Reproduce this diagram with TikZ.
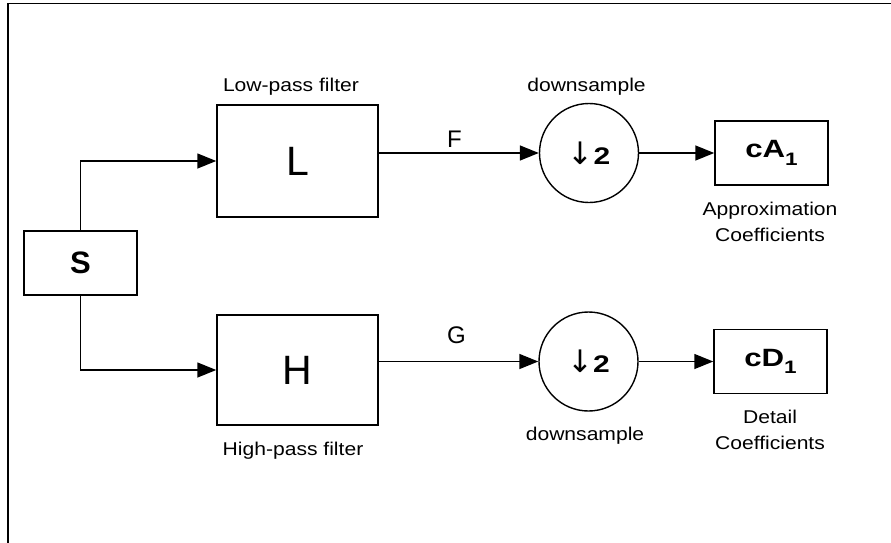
\documentclass[tikz,border=0pt]{standalone}
\usepackage{fontspec}
\setmainfont{Liberation Sans}
\newfontfamily\labfont[FakeStretch=1.14]{Liberation Sans}
\newfontfamily\widefont[FakeStretch=1.25]{Liberation Sans}
\newfontfamily\arrfont{DejaVu Sans}
\usetikzlibrary{arrows.meta}

\begin{document}
\begin{tikzpicture}[x=1pt, y=-1pt,
  blk/.style={draw, line width=1.5pt, inner sep=0},
  ds/.style={circle, draw, line width=1.4pt, minimum size=99pt, inner sep=0,
             font=\widefont\bfseries\fontsize{24}{24}\selectfont},
  coef/.style={blk, minimum width=113pt, minimum height=64pt,
               font=\widefont\bfseries\fontsize{25}{25}\selectfont},
  lab/.style={font=\labfont\fontsize{18.5}{26}\selectfont, align=center,
              inner sep=0},
  sig/.style={font=\fontsize{24}{24}\selectfont, inner sep=0,
              anchor=base west},
  flow/.style={line width=1.5pt, -{Triangle[length=19pt, width=15pt]}}]

\useasboundingbox (0,0) rectangle (891,543);

% ---- frame (top and left only)
\draw[line width=1.5pt] (8,543) -- (8,3.5) -- (891,3.5);

% ---- blocks
\node[blk, minimum width=113pt, minimum height=64pt,
      font=\bfseries\fontsize{31}{31}\selectfont] (S) at (80.5,263) {S};
\node[blk, minimum width=161pt, minimum height=112pt,
      font=\fontsize{41}{41}\selectfont] (L) at (297.5,161) {L};
\node[blk, minimum width=161pt, minimum height=110pt,
      font=\fontsize{41}{41}\selectfont] (H) at (297.5,370) {H};
\node[ds] (dsL) at (589,153)
  {{\arrfont\mdseries\fontsize{31}{31}\selectfont ↓}2};
\node[ds] (dsH) at (588.5,361.5)
  {{\arrfont\mdseries\fontsize{31}{31}\selectfont ↓}2};
\node[coef] (cA) at (771.5,153)
  {cA\raisebox{-0.3em}{\fontsize{18}{18}\selectfont 1}};
\node[coef] (cD) at (770.5,361.5)
  {cD\raisebox{-0.3em}{\fontsize{18}{18}\selectfont 1}};

% ---- labels
\node[lab, anchor=base] (lowlab) at (291,91) {Low-pass filter};
\node[lab, anchor=base] (highlab) at (293,455) {High-pass filter};
\node[lab, anchor=base] (dslabL) at (586.5,91.5) {downsample};
\node[lab, anchor=base] (dslabH) at (585,440) {downsample};
\node[lab, anchor=base] (cAlab) at (770,241) {Approximation\\Coefficients};
\node[lab, anchor=base] (cDlab) at (770,449) {Detail\\Coefficients};
\node[sig] (Flab) at (447,147) {F};
\node[sig] (Glab) at (447,343) {G};

% ---- connectors
\draw[flow] (S.north) |- (L.west);
\draw[flow] (S.south) |- (H.west);
\draw[flow] (dsL.west -| L.east) -- (dsL.west);
\draw[flow] (dsH.west -| H.east) -- (dsH.west);
\draw[flow] (dsL.east) -- (cA.west);
\draw[flow] (dsH.east) -- (cD.west);

\end{tikzpicture}
\end{document}
